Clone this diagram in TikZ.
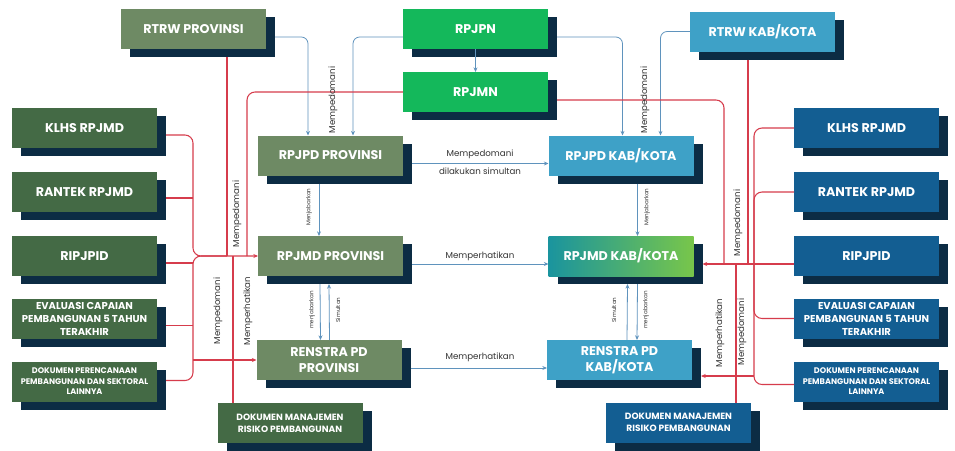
\documentclass[tikz,border=0pt]{standalone}
\usepackage{fontspec}
\setmainfont{Poppins}
\usetikzlibrary{calc,arrows.meta}
\definecolor{shad}{HTML}{0C2C44}
\definecolor{gDark}{HTML}{446A45}
\definecolor{gSage}{HTML}{6E8A64}
\definecolor{gBright}{HTML}{14B85B}
\definecolor{bLight}{HTML}{3EA1C7}
\definecolor{bDark}{HTML}{135E92}
\definecolor{tealA}{HTML}{1A949E}
\definecolor{greenB}{HTML}{78C64A}
\definecolor{blc}{HTML}{5F93BD}
\definecolor{rdc}{HTML}{D63C4C}
\definecolor{lblc}{HTML}{333333}
\tikzset{
  fbox/.style={minimum width=108.75pt, minimum height=30pt, inner sep=0pt, outer sep=0pt,
    text=white, font=\bfseries\fontsize{9.5}{11}\selectfont, align=center},
  sbox/.style={minimum width=108.75pt, minimum height=30pt, inner sep=0pt, outer sep=0pt, fill=shad},
  midf/.style={font=\bfseries\fontsize{7.5}{9.8}\selectfont},
  smlf/.style={font=\bfseries\fontsize{6.1}{7.9}\selectfont},
  dokf/.style={font=\bfseries\fontsize{6.8}{8.7}\selectfont},
  renf/.style={font=\bfseries\fontsize{9.5}{12}\selectfont},
  bl/.style={draw=blc, line width=0.6pt},
  rd/.style={draw=rdc, line width=0.8pt},
  arr/.style={-{Stealth[length=3.5pt,width=3pt]}},
  lbl/.style={text=lblc, font=\fontsize{6.5}{7.5}\selectfont, inner sep=0pt},
  tinyl/.style={text=lblc, font=\fontsize{4.2}{5}\selectfont, inner sep=0pt},
}
\newcommand\mkbox[5]{%
  \node[sbox] (#1-s) at ($(#2,#3)+(9,8)$) {};
  \node[fbox,#4] (#1) at (#2,#3) {#5};}
\begin{document}
\begin{tikzpicture}[x=0.75pt,y=-0.75pt]
\fill[white] (0,0) rectangle (955,450);
\useasboundingbox (0,0) rectangle (955,450);

% top row
\mkbox{rtrwP}{193.5}{29}{fill=gSage}{RTRW PROVINSI}
\mkbox{rpjpn}{475.5}{29}{fill=gBright}{RPJPN}
\mkbox{rpjmn}{475.5}{92}{fill=gBright}{RPJMN}
\mkbox{rtrwK}{762.5}{31.5}{fill=bLight}{RTRW KAB/KOTA}
% left column
\mkbox{klhsL}{84.5}{128}{fill=gDark}{KLHS RPJMD}
\mkbox{rantekL}{84.5}{192}{fill=gDark}{RANTEK RPJMD}
\mkbox{ripL}{84.5}{256}{fill=gDark}{RIPJPID}
\mkbox{evalL}{84.5}{318.5}{fill=gDark,midf}{EVALUASI CAPAIAN\\PEMBANGUNAN 5 TAHUN\\TERAKHIR}
\mkbox{dokPL}{84.5}{381.5}{fill=gDark,smlf}{DOKUMEN PERENCANAAN\\PEMBANGUNAN DAN SEKTORAL\\LAINNYA}
% middle province
\mkbox{rpjpdP}{330.5}{155.5}{fill=gSage}{RPJPD PROVINSI}
\mkbox{rpjmdP}{330.5}{256}{fill=gSage}{RPJMD PROVINSI}
\mkbox{renP}{329}{360}{fill=gSage,renf}{RENSTRA PD\\PROVINSI}
\mkbox{dokML}{290}{423}{fill=gDark,dokf}{DOKUMEN MANAJEMEN\\RISIKO PEMBANGUNAN}
% middle kab/kota
\mkbox{rpjpdK}{621}{155.5}{fill=bLight}{RPJPD KAB/KOTA}
\mkbox{rpjmdK}{621}{256}{left color=tealA,right color=greenB}{RPJMD KAB/KOTA}
\mkbox{renK}{619.5}{360}{fill=bLight,renf}{RENSTRA PD\\KAB/KOTA}
\mkbox{dokMR}{678.5}{422.5}{fill=bDark,dokf}{DOKUMEN MANAJEMEN\\RISIKO PEMBANGUNAN}
% right column
\mkbox{klhsR}{866.5}{128}{fill=bDark}{KLHS RPJMD}
\mkbox{rantekR}{866.5}{192}{fill=bDark}{RANTEK RPJMD}
\mkbox{ripR}{866.5}{256}{fill=bDark}{RIPJPID}
\mkbox{evalR}{866.5}{318.5}{fill=bDark,midf}{EVALUASI CAPAIAN\\PEMBANGUNAN 5 TAHUN\\TERAKHIR}
\mkbox{dokPR}{866.5}{381.5}{fill=bDark,smlf}{DOKUMEN PERENCANAAN\\PEMBANGUNAN DAN SEKTORAL\\LAINNYA}

% junction coordinates
\coordinate (jL) at (193,256);
\coordinate (h1) at (227,256);
\coordinate (h2) at (247,256);
\coordinate (h3) at (233,256);
\coordinate (bL) at (193,360);
\coordinate (jR) at (754,264);
\coordinate (k1) at (724,264);
\coordinate (k2) at (748,264);
\coordinate (k3) at (736,264);
\coordinate (bR) at (754,376);

% blue connectors
\draw[bl,arr,rounded corners=5pt] (rtrwP-s.east) -| ($(rpjpdP.north west)+(50,0)$);
\draw[bl,arr,rounded corners=5pt] ($(rpjpn.west)+(0,8)$) -| ($(rpjpdP.north west)+(95,0)$);
\draw[bl,arr,rounded corners=5pt] (rpjpn-s.east) -| ($(rpjpdK.north west)+(74,0)$);
\draw[bl,arr,rounded corners=5pt] (rtrwK.west) -| ($(rpjpdK.north west)+(112,0)$);
\draw[bl,arr] (rpjpn.south) -- (rpjmn.north);
\draw[bl,arr] (rpjpdP-s.east) -- (rpjpdP-s.east -| rpjpdK.west);
\draw[bl,arr] (rpjmdP-s.east) -- (rpjmdP-s.east -| rpjmdK.west);
\draw[bl,arr] (renP-s.east) -- (renP-s.east -| renK.west);
\draw[bl,arr] ($(rpjpdP.south west)+(61,8)$) -- ($(rpjmdP.north west)+(61,0)$);
\draw[bl,arr] ($(rpjpdK.south west)+(89,8)$) -- ($(rpjmdK.north west)+(89,0)$);
\draw[bl,arr] ($(rpjmdP.south west)+(62,8)$) -- ($(renP.north west)+(64,0)$);
\draw[bl,arr] ($(renP.north west)+(73,0)$) -- ($(rpjmdP.south west)+(71,8)$);
\draw[bl,arr] ($(renK.north west)+(80,0)$) -- ($(rpjmdK.south west)+(79,8)$);
\draw[bl,arr] ($(rpjmdK.south west)+(89,8)$) -- ($(renK.north west)+(90,0)$);

% red connectors, left
\draw[rd,arr,rounded corners=6pt] ($(klhsL.east)+(9,7)$) -| (jL) -- (rpjmdP.west);
\draw[rd,rounded corners=6pt] ($(dokPL.east)+(9,-1)$) -| (jL) -- (h1);
\draw[rd] ($(rantekL.east)+(9,6)$) -- ($(rantekL.east -| jL)+(0,6)$);
\draw[rd] ($(ripL.east)+(9,7)$) -- ($(ripL.east -| jL)+(0,7)$);
\draw[rd] ($(evalL.east)+(9,7)$) -- ($(evalL.east -| jL)+(0,7)$);
\draw[rd,arr] (bL) -- (bL -| renP.west);
\draw[rd] (h1 |- rtrwP-s.south) -- (h1);
\draw[rd,rounded corners=6pt] (rpjmn.west) -| (h2);
\draw[rd] (h3) -- (h3 |- dokML.north);

% red connectors, right
\draw[rd,rounded corners=6pt] (klhsR.west) -| (jR);
\draw[rd,rounded corners=6pt] (rantekR.west) -| (jR);
\draw[rd] (ripR.west |- jR) -- (jR);
\draw[rd,arr] (jR) -- (rpjmdK-s.east);
\draw[rd,rounded corners=6pt] (jR) |- (evalR.west);
\draw[rd,rounded corners=6pt] (jR) |- ($(dokPR.west)+(0,3)$);
\draw[rd,arr] (bR) -- (bR -| renK-s.east);
\draw[rd,rounded corners=6pt] (rpjmn-s.east) -| (k1);
\draw[rd] (k2 |- rtrwK-s.south) -- (k2);
\draw[rd] (k3) -- (k3 |- dokMR.north);

% labels
\node[lbl,rotate=90] (l1) at (333,100) {Mempedomani};
\node[lbl,rotate=90] (l2) at (645,100) {Mempedomani};
\node[lbl] (l3) at (480,154) {Mempedomani};
\node[lbl] (l4) at (480,171) {dilakukan simultan};
\node[lbl] (l5) at (480,256) {Memperhatikan};
\node[lbl] (l6) at (480,357) {Memperhatikan};
\node[lbl,rotate=90] (l7) at (237,214) {Mempedomani};
\node[lbl,rotate=90] (l8) at (218,311) {Mempedomani};
\node[lbl,rotate=90] (l9) at (248,311) {Memperhatikan};
\node[lbl,rotate=90] (l10) at (738,223) {Mempedomani};
\node[lbl,rotate=90] (l11) at (720,333) {Memperhatikan};
\node[lbl,rotate=90] (l12) at (742,332) {Mempedomani};
\node[tinyl,rotate=90] (t1) at (309,207) {Menjabarkan};
\node[tinyl,rotate=90] (t2) at (647,207) {Menjabarkan};
\node[tinyl,rotate=90] (t3) at (312,310) {menjabarkan};
\node[tinyl,rotate=90] (t4) at (338,310) {Simultan};
\node[tinyl,rotate=90] (t5) at (614,310) {Simultan};
\node[tinyl,rotate=90] (t6) at (646,310) {menjabarkan};
\end{tikzpicture}
\end{document}
